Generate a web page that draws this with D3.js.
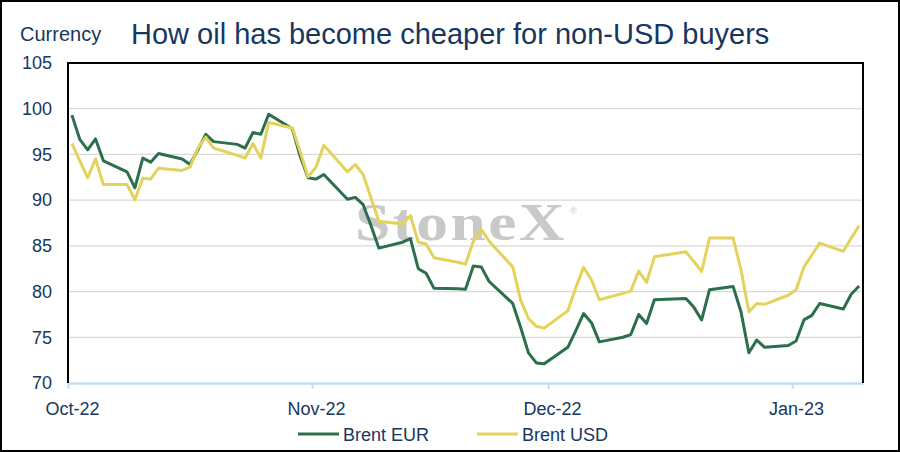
<!DOCTYPE html>
<html>
<head>
<meta charset="utf-8">
<script src="https://cdn.jsdelivr.net/npm/d3@7"></script>
<style>
  body { margin: 0; background: #fff; }
  svg { display: block; font-family: "Liberation Sans", Arial, sans-serif; }
</style>
</head>
<body>
<div id="chart"></div>
<script>
// Data
const dates = [
  "2022-10-10", "2022-10-11", "2022-10-12", "2022-10-13", "2022-10-14",
  "2022-10-17", "2022-10-18", "2022-10-19", "2022-10-20", "2022-10-21",
  "2022-10-24", "2022-10-25", "2022-10-26", "2022-10-27", "2022-10-28",
  "2022-10-31",
  "2022-11-01", "2022-11-02", "2022-11-03", "2022-11-04",
  "2022-11-07", "2022-11-08", "2022-11-09", "2022-11-10", "2022-11-11",
  "2022-11-14", "2022-11-15", "2022-11-16", "2022-11-17", "2022-11-18",
  "2022-11-21", "2022-11-22", "2022-11-23", "2022-11-24", "2022-11-25",
  "2022-11-28", "2022-11-29", "2022-11-30",
  "2022-12-01", "2022-12-02",
  "2022-12-05", "2022-12-06", "2022-12-07", "2022-12-08", "2022-12-09",
  "2022-12-12", "2022-12-13", "2022-12-14", "2022-12-15", "2022-12-16",
  "2022-12-19", "2022-12-20", "2022-12-21", "2022-12-22", "2022-12-23",
  "2022-12-27", "2022-12-28", "2022-12-29", "2022-12-30",
  "2023-01-02", "2023-01-03", "2023-01-04", "2023-01-05", "2023-01-06",
  "2023-01-09", "2023-01-10", "2023-01-11", "2023-01-12", "2023-01-13",
  "2023-01-16", "2023-01-17", "2023-01-18",
];

const brentEur = [
  99.3, 96.65, 95.5, 96.7, 94.3, 93.1, 91.35, 94.6, 94.15, 95.1,
  94.5, 93.9, 95.5, 97.2, 96.4, 96.1,
  95.7, 97.4, 97.2, 99.4, 97.8, 94.8, 92.45, 92.3, 92.8, 90.1,
  90.3, 89.5, 87.2, 84.75, 85.4, 85.8, 82.5, 82.0, 80.35, 80.3,
  80.25, 82.8,
  82.7, 81.1, 78.7, 76.1, 73.3, 72.2, 72.1, 73.9, 75.7, 77.6,
  76.6, 74.5, 75.0, 75.3, 77.5, 76.5, 79.1, 79.25, 78.3, 76.9, 80.2,
  80.55, 77.8, 73.3, 74.7, 73.9, 74.1, 74.6, 76.9, 77.4, 78.7,
  78.1, 79.7, 80.6,
];

const brentUsd = [
  96.2, 94.3, 92.45, 94.5, 91.7, 91.7, 90.05, 92.4, 92.3, 93.5,
  93.25, 93.6, 95.7, 96.9, 95.7, 94.9,
  94.6, 96.2, 94.6, 98.5, 97.9, 95.3, 92.55, 93.6, 96.0, 93.1,
  93.9, 92.8, 90.2, 87.7, 87.4, 88.3, 85.4, 85.2, 83.7, 83.2,
  83.0, 85.5,
  86.8, 85.5, 82.7, 79.1, 77.05, 76.2, 76.0, 77.9, 80.4, 82.65,
  81.3, 79.1, 79.8, 80.05, 82.25, 81.0, 83.8, 84.35, 83.3, 82.2, 85.85,
  85.85, 82.4, 77.8, 78.7, 78.6, 79.6, 80.2, 82.7, 84.0, 85.3,
  84.4, 85.85, 87.2,
];

const yTicks = [70, 75, 80, 85, 90, 95, 100, 105];
const xTickDates = ["2022-10-10", "2022-11-10", "2022-12-10", "2023-01-10"];
const xDomain = ["2022-10-10", "2023-01-19"];

const series = [
  { name: "Brent EUR", values: brentEur, color: "#2b6f4c" },
  { name: "Brent USD", values: brentUsd, color: "#e3d35a" },
];

// Layout
const width = 900;
const height = 452;
const margin = { top: 63, right: 37, bottom: 69, left: 68 };
const navy = "#17375e";

const parse = d3.timeParse("%Y-%m-%d");

const svg = d3
  .select("#chart")
  .append("svg")
  .attr("width", width)
  .attr("height", height);

svg
  .append("rect")
  .attr("x", 1)
  .attr("y", 1)
  .attr("width", width - 2)
  .attr("height", height - 2)
  .attr("fill", "#fff")
  .attr("stroke", "#000")
  .attr("stroke-width", 2);

const x = d3
  .scaleTime()
  .domain(xDomain.map(parse))
  .range([margin.left, width - margin.right]);

const y = d3
  .scaleLinear()
  .domain([70, 105])
  .range([height - margin.bottom, margin.top]);

// points sit in the middle of each day slot
const mid = (d) => d3.timeHour.offset(parse(d), 12);
const halfDay = x(mid(xDomain[0])) - x(parse(xDomain[0]));

// Gridlines
svg
  .append("g")
  .selectAll("line")
  .data(yTicks.filter((t) => t > 70 && t < 105))
  .enter()
  .append("line")
  .attr("x1", margin.left)
  .attr("x2", width - margin.right)
  .attr("y1", (d) => y(d))
  .attr("y2", (d) => y(d))
  .attr("stroke", "#d9d9d9")
  .attr("stroke-width", 1.2);

// Watermark
const wm = svg.append("g").attr("fill", "#c9c9c9");
wm.append("text")
  .attr("transform", "translate(355,240) scale(1.22,1)")
  .attr("font-family", "'Liberation Serif', 'Times New Roman', serif")
  .attr("font-weight", "bold")
  .attr("font-size", 52)
  .attr("letter-spacing", 2)
  .text("StoneX");
wm.append("text")
  .attr("x", 570)
  .attr("y", 214)
  .attr("font-size", 9)
  .text("®");

// Y axis labels
const yAxis = svg
  .append("g")
  .attr("transform", `translate(${margin.left},0)`)
  .call(d3.axisLeft(y).tickValues(yTicks).tickSize(0).tickPadding(16));
yAxis.select(".domain").remove();
yAxis
  .selectAll("text")
  .attr("fill", navy)
  .attr("font-size", 18)
  .attr("font-family", "'Liberation Sans', Arial, sans-serif");

// X axis
const xAxis = svg
  .append("g")
  .attr("transform", `translate(0,${height - margin.bottom})`)
  .call(
    d3
      .axisBottom(x)
      .tickValues(xTickDates.map(parse))
      .tickFormat(d3.timeFormat("%b-%y"))
      .tickSize(6)
      .tickSizeOuter(0)
      .tickPadding(13),
  );
xAxis.select(".domain").attr("stroke", "#c5dcf2").attr("stroke-width", 2.5);
xAxis.selectAll(".tick line").attr("stroke", "#c5dcf2").attr("stroke-width", 2);
xAxis
  .selectAll("text")
  .attr("dx", halfDay)
  .attr("fill", navy)
  .attr("font-size", 18)
  .attr("font-family", "'Liberation Sans', Arial, sans-serif");

// Plot frame (left, top, right)
svg
  .append("path")
  .attr(
    "d",
    `M${margin.left},${height - margin.bottom}V${margin.top}H${width - margin.right}V${height - margin.bottom}`,
  )
  .attr("fill", "none")
  .attr("stroke", "#000")
  .attr("stroke-width", 2);

// Lines
const line = d3
  .line()
  .x((d) => x(d.date))
  .y((d) => y(d.value));

series.forEach((s) => {
  const pts = dates.map((d, i) => ({ date: mid(d), value: s.values[i] }));
  svg
    .append("path")
    .datum(pts)
    .attr("d", line)
    .attr("fill", "none")
    .attr("stroke", s.color)
    .attr("stroke-width", 3)
    .attr("stroke-linejoin", "round");
});

// Titles
svg
  .append("text")
  .attr("x", 20)
  .attr("y", 41)
  .attr("fill", navy)
  .attr("font-size", 20)
  .text("Currency");

svg
  .append("text")
  .attr("x", 131)
  .attr("y", 44)
  .attr("fill", navy)
  .attr("font-size", 29)
  .text("How oil has become cheaper for non-USD buyers");

// Legend
const legendPos = [298, 477];
const legend = svg
  .append("g")
  .selectAll("g")
  .data(series)
  .enter()
  .append("g")
  .attr("transform", (d, i) => `translate(${legendPos[i]},434)`);

legend
  .append("line")
  .attr("x1", 0)
  .attr("x2", 41)
  .attr("stroke", (d) => d.color)
  .attr("stroke-width", 3);

legend
  .append("text")
  .attr("x", 45)
  .attr("y", 7)
  .attr("fill", navy)
  .attr("font-size", 18)
  .text((d) => d.name);
</script>
</body>
</html>
